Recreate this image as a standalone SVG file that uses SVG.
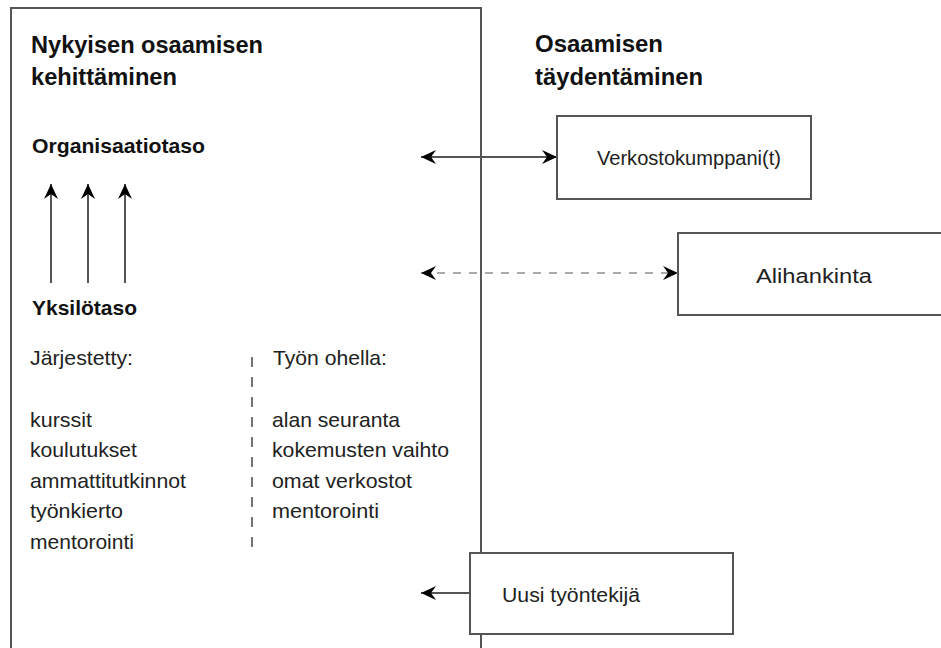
<svg xmlns="http://www.w3.org/2000/svg" width="941" height="648" viewBox="0 0 941 648">
<defs>
<style>
.box{fill:#fff;stroke:#555;stroke-width:2}
.title{font-family:"Liberation Sans",Arial,sans-serif;font-weight:bold;font-size:23px;fill:#111}
.sub{font-family:"Liberation Sans",Arial,sans-serif;font-weight:bold;font-size:21px;fill:#111}
.txt{font-family:"Liberation Sans",Arial,sans-serif;font-size:21px;fill:#222}
.lbl{font-family:"Liberation Sans",Arial,sans-serif;font-size:20px;fill:#222}
.conn{stroke:#555;stroke-width:2;fill:none}
.dash{stroke:#aaa;stroke-width:2.2;stroke-dasharray:8 8;fill:none}
.sep{stroke:#666;stroke-width:1.8;stroke-dasharray:10 10;fill:none}
</style>
<marker id="ah" markerUnits="userSpaceOnUse" markerWidth="16" markerHeight="14" refX="15" refY="7" orient="auto-start-reverse" viewBox="0 0 16 14">
<path d="M0,0 L15,7 L0,14 L5,7 Z" fill="#000"/>
</marker>
</defs>
<g id="main">
<rect class="box" x="11" y="8" width="470" height="660"/>
<text class="title" x="31" y="53" textLength="232" lengthAdjust="spacingAndGlyphs">Nykyisen osaamisen</text>
<text class="title" x="31" y="85" textLength="146" lengthAdjust="spacingAndGlyphs">kehittäminen</text>
<text class="sub" x="32" y="153" textLength="173" lengthAdjust="spacingAndGlyphs">Organisaatiotaso</text>
<text class="sub" x="32" y="315" textLength="105" lengthAdjust="spacingAndGlyphs">Yksilötaso</text>
<text class="txt" x="30" y="365" textLength="103" lengthAdjust="spacingAndGlyphs">Järjestetty:</text>
<text class="txt" x="30" y="427" textLength="62" lengthAdjust="spacingAndGlyphs">kurssit</text>
<text class="txt" x="30" y="457" textLength="107" lengthAdjust="spacingAndGlyphs">koulutukset</text>
<text class="txt" x="30" y="488" textLength="156" lengthAdjust="spacingAndGlyphs">ammattitutkinnot</text>
<text class="txt" x="30" y="518" textLength="93" lengthAdjust="spacingAndGlyphs">työnkierto</text>
<text class="txt" x="30" y="549" textLength="104" lengthAdjust="spacingAndGlyphs">mentorointi</text>
<text class="txt" x="273" y="365" textLength="114" lengthAdjust="spacingAndGlyphs">Työn ohella:</text>
<text class="txt" x="272" y="427" textLength="128" lengthAdjust="spacingAndGlyphs">alan seuranta</text>
<text class="txt" x="272" y="457" textLength="177" lengthAdjust="spacingAndGlyphs">kokemusten vaihto</text>
<text class="txt" x="272" y="488" textLength="140" lengthAdjust="spacingAndGlyphs">omat verkostot</text>
<text class="txt" x="272" y="518" textLength="107" lengthAdjust="spacingAndGlyphs">mentorointi</text>
<line class="sep" x1="252" y1="357" x2="252" y2="552"/>
</g>
<g id="right-title">
<text class="title" x="535" y="52" textLength="128" lengthAdjust="spacingAndGlyphs">Osaamisen</text>
<text class="title" x="535" y="85" textLength="168" lengthAdjust="spacingAndGlyphs">täydentäminen</text>
</g>
<g id="connectors">
<line class="conn" x1="51" y1="283" x2="51" y2="184" marker-end="url(#ah)"/>
<line class="conn" x1="88" y1="283" x2="88" y2="184" marker-end="url(#ah)"/>
<line class="conn" x1="125" y1="283" x2="125" y2="184" marker-end="url(#ah)"/>
<line class="conn" x1="421" y1="157" x2="557" y2="157" marker-start="url(#ah)" marker-end="url(#ah)"/>
<line class="dash" x1="421" y1="273" x2="678" y2="273" marker-start="url(#ah)" marker-end="url(#ah)"/>
<line class="conn" x1="470" y1="593" x2="421" y2="593" marker-end="url(#ah)"/>
</g>
<g id="verkosto">
<rect class="box" x="557" y="116" width="254" height="83"/>
<text class="lbl" x="597" y="165" textLength="184" lengthAdjust="spacingAndGlyphs">Verkostokumppani(t)</text>
</g>
<g id="alihankinta">
<rect class="box" x="678" y="233" width="280" height="82"/>
<text class="lbl" x="756" y="283" textLength="116" lengthAdjust="spacingAndGlyphs">Alihankinta</text>
</g>
<g id="uusi">
<rect class="box" x="470" y="553" width="263" height="81"/>
<text class="lbl" x="502" y="602" textLength="138" lengthAdjust="spacingAndGlyphs">Uusi työntekijä</text>
</g>
</svg>
